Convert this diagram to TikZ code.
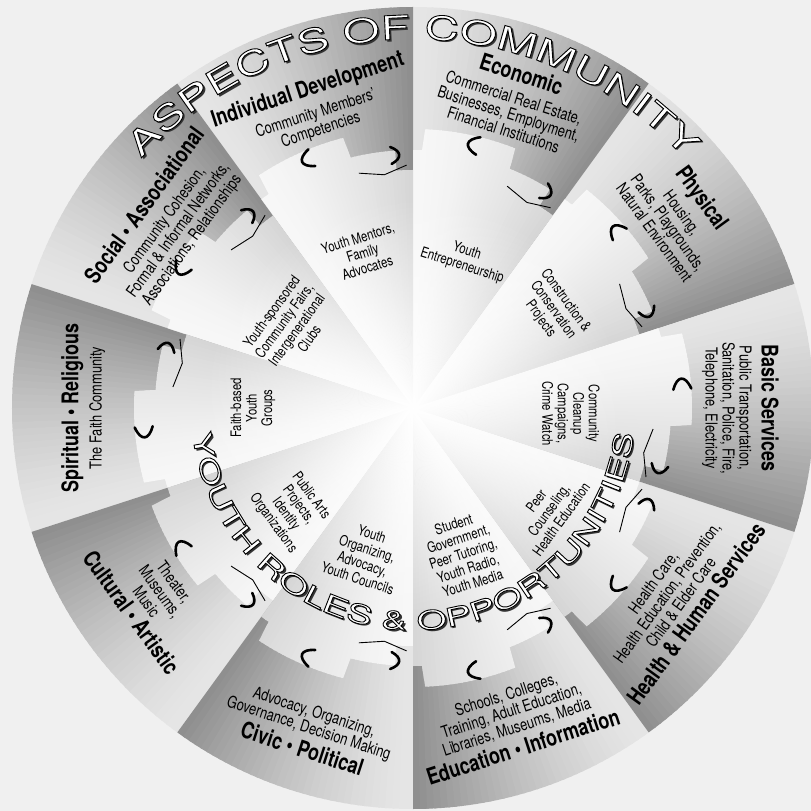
\documentclass[tikz,border=0pt]{standalone}
\usepackage{fontspec}
\usepackage{tikz}
\usetikzlibrary{decorations.text,fadings}
\setmainfont{TeX Gyre Heros}
\newfontfamily\condfont{TeX Gyre Heros}[FakeStretch=0.78]
\newfontfamily\ringfont{TeX Gyre Heros}[FakeStretch=1.45]
\newfontfamily\rolefont{TeX Gyre Heros}[FakeStretch=1.5]
\definecolor{paper}{HTML}{F0F0F0}
\tikzfading[name=glow,inner color=transparent!0,outer color=transparent!100]
\newcommand{\ttl}[1]{{\bfseries\fontsize{23}{24}\selectfont #1}}
\newcommand{\outline}{\special{pdf:literal direct 0 0 0 RG 0.9 w 2 Tr}}
\newcommand{\piece}[2]{(0,0) -- ({#1}:238)
   arc[start angle={#1},end angle={#1+4*#2},radius=238] -- ({#1+4*#2}:258)
   arc[start angle={#1+4*#2},end angle={#1+14*#2},radius=258] -- ({#1+14.5*#2}:279)
   arc[start angle={#1+14.5*#2},end angle={#1+33.5*#2},radius=279] -- ({#1+34*#2}:258)
   arc[start angle={#1+34*#2},end angle={#1+36*#2},radius=258] -- cycle}

\begin{document}
\begin{tikzpicture}[x=1pt,y=1pt,
   aspect/.style={align=center,inner sep=0pt,font=\condfont\fontsize{16.5}{17}\selectfont},
   youth/.style={align=center,inner sep=0pt,font=\condfont\fontsize{14.5}{15.5}\selectfont},
   notch/.style={line width=2.6pt,line cap=round},
   seam/.style={line width=0.9pt},
   ring/.style n args={3}{decorate,decoration={text along path,text align=center,text color=#1,text={|#2|#3}}}]
\useasboundingbox (-413,-403) rectangle (398,408);
\fill[paper] (-413,-403) rectangle (398,408);
\foreach \a in {18,54,...,342} {
   \foreach \i in {0,...,35} {
      \pgfmathsetmacro\pct{10+34*(1-\i/35)^1.4}
      \pgfmathsetmacro\ea{\a+\i+1+0.3*(\i<35)}
      \fill[black!\pct] (0,0) -- ({\a+\i}:401) arc[start angle={\a+\i},end angle=\ea,radius=401] -- cycle;
   }
}
\begin{scope}
   \clip \foreach \b/\s in {18/1,54/1,90/1,126/1,162/1,342/1,234/-1,270/-1,306/-1,342/-1} {\piece{\b}{\s}};
   \foreach \a in {18,54,...,342} {
      \foreach \i in {0,...,35} {
         \pgfmathsetmacro\pct{3+13*(1-\i/35)^1.4}
         \pgfmathsetmacro\ea{\a+\i+1+0.3*(\i<35)}
         \fill[black!\pct] (0,0) -- ({\a+\i}:290) arc[start angle={\a+\i},end angle=\ea,radius=290] -- cycle;
      }
   }
   \fill[white,path fading=glow] (0,0) circle (210);
\end{scope}
\foreach \b/\s in {18/1,54/1,90/1,126/1,162/1,342/1,234/-1,270/-1,306/-1,342/-1} {
   \draw[notch] ({\b+22*\s}:279) .. controls ({\b+25*\s}:274) and ({\b+25*\s}:266) .. ({\b+22*\s}:261);
   \draw[notch] ({\b+5*\s}:262) .. controls ({\b+2.5*\s}:257) and ({\b+2.5*\s}:250) .. ({\b+5*\s}:245);
   \draw[seam] ({\b+13*\s}:241) -- ({\b+7*\s}:235) -- ({\b+1.5*\s}:243);
}
\foreach \nm/\m/\r/\rt/\an/\txt in {%
   indiv/108.3/346/18/north/{\ttl{Individual Development}\\[5pt]Community Members’\\Competencies},
   econ/72/360/-18/north/{\ttl{Economic}\\[5pt]Commercial Real Estate,\\Businesses, Employment,\\Financial Institutions},
   phys/36/367/-54/north/{\ttl{Physical}\\[5pt]Housing,\\Parks, Playgrounds,\\Natural Environment},
   basic/0/366/-90/north/{\ttl{Basic Services}\\[5pt]Public Transportation,\\Sanitation, Police, Fire,\\Telephone, Electricity},
   health/324/359/54/south/{Health Care,\\Health Education, Prevention,\\Child \& Elder Care\\[3pt]\ttl{Health \& Human Services}},
   educ/288/365/18/south/{Schools, Colleges,\\Training, Adult Education,\\Libraries, Museums, Media\\[3pt]\ttl{Education • Information}},
   civic/252/367/-18/south/{Advocacy, Organizing,\\Governance, Decision Making\\[3pt]\ttl{Civic • Political}},
   cult/216/357/-54/south/{Theater,\\Museums,\\Music\\[3pt]\ttl{Cultural • Artistic}},
   spirit/180/352/90/north/{\ttl{Spiritual • Religious}\\[5pt]The Faith Community},
   social/143/346/54/north/{\ttl{Social • Associational}\\[5pt]Community Cohesion,\\Formal \& Informal Networks,\\Associations, Relationships}} {
   \node[aspect,anchor=\an,rotate=\rt] (\nm) at (\m:\r) {\txt};
}
\foreach \nm/\m/\r/\rt/\txt in {%
   socy/146/148/54/{Youth-sponsored\\Community Fairs,\\Intergenerational\\Clubs},
   indy/108/163/18/{Youth Mentors,\\Family\\Advocates},
   econy/71/158/-18/{Youth\\Entrepreneurship},
   physy/35/171/-54/{Construction \&\\Conservation\\Projects},
   basicy/-2/158/-90/{Community\\Cleanup\\Campaigns,\\Crime Watch},
   healthy/-37/170/54/{Peer\\Counseling,\\Health Education},
   educy/-71/154/18/{Student\\Government,\\Peer Tutoring,\\Youth Radio,\\Youth Media},
   civicy/252/156/-18/{Youth\\Organizing,\\Advocacy,\\Youth Councils},
   culty/220/158/-54/{Public Arts\\Projects,\\Identity\\Organizations},
   spirity/180/160/90/{Faith-based\\Youth\\Groups}} {
   \node[youth,rotate=\rt] (\nm) at (\m:\r) {\txt};
}
\foreach \dx/\dy/\c/\fx in {2.2/-2.2/black!80/,0/0/white/\outline} {
   \path[ring={\c}{\ringfont\fontsize{33}{33}\selectfont\fx}{ASPECTS OF COMMUNITY},shift={(\dx,\dy)}]
      (140:369) arc[start angle=140,end angle=40,radius=369];
   \path[ring={\c}{\rolefont\fontsize{26}{26}\selectfont\fx}{YOUTH ROLES {\&} OPPORTUNITIES},shift={(\dx,\dy)}]
      (180:222) arc[start angle=180,end angle=360,radius=222];
}
\node[inner sep=0pt] (reset) at (0,0) {\special{pdf:literal direct 0 Tr}};
\end{tikzpicture}
\end{document}
